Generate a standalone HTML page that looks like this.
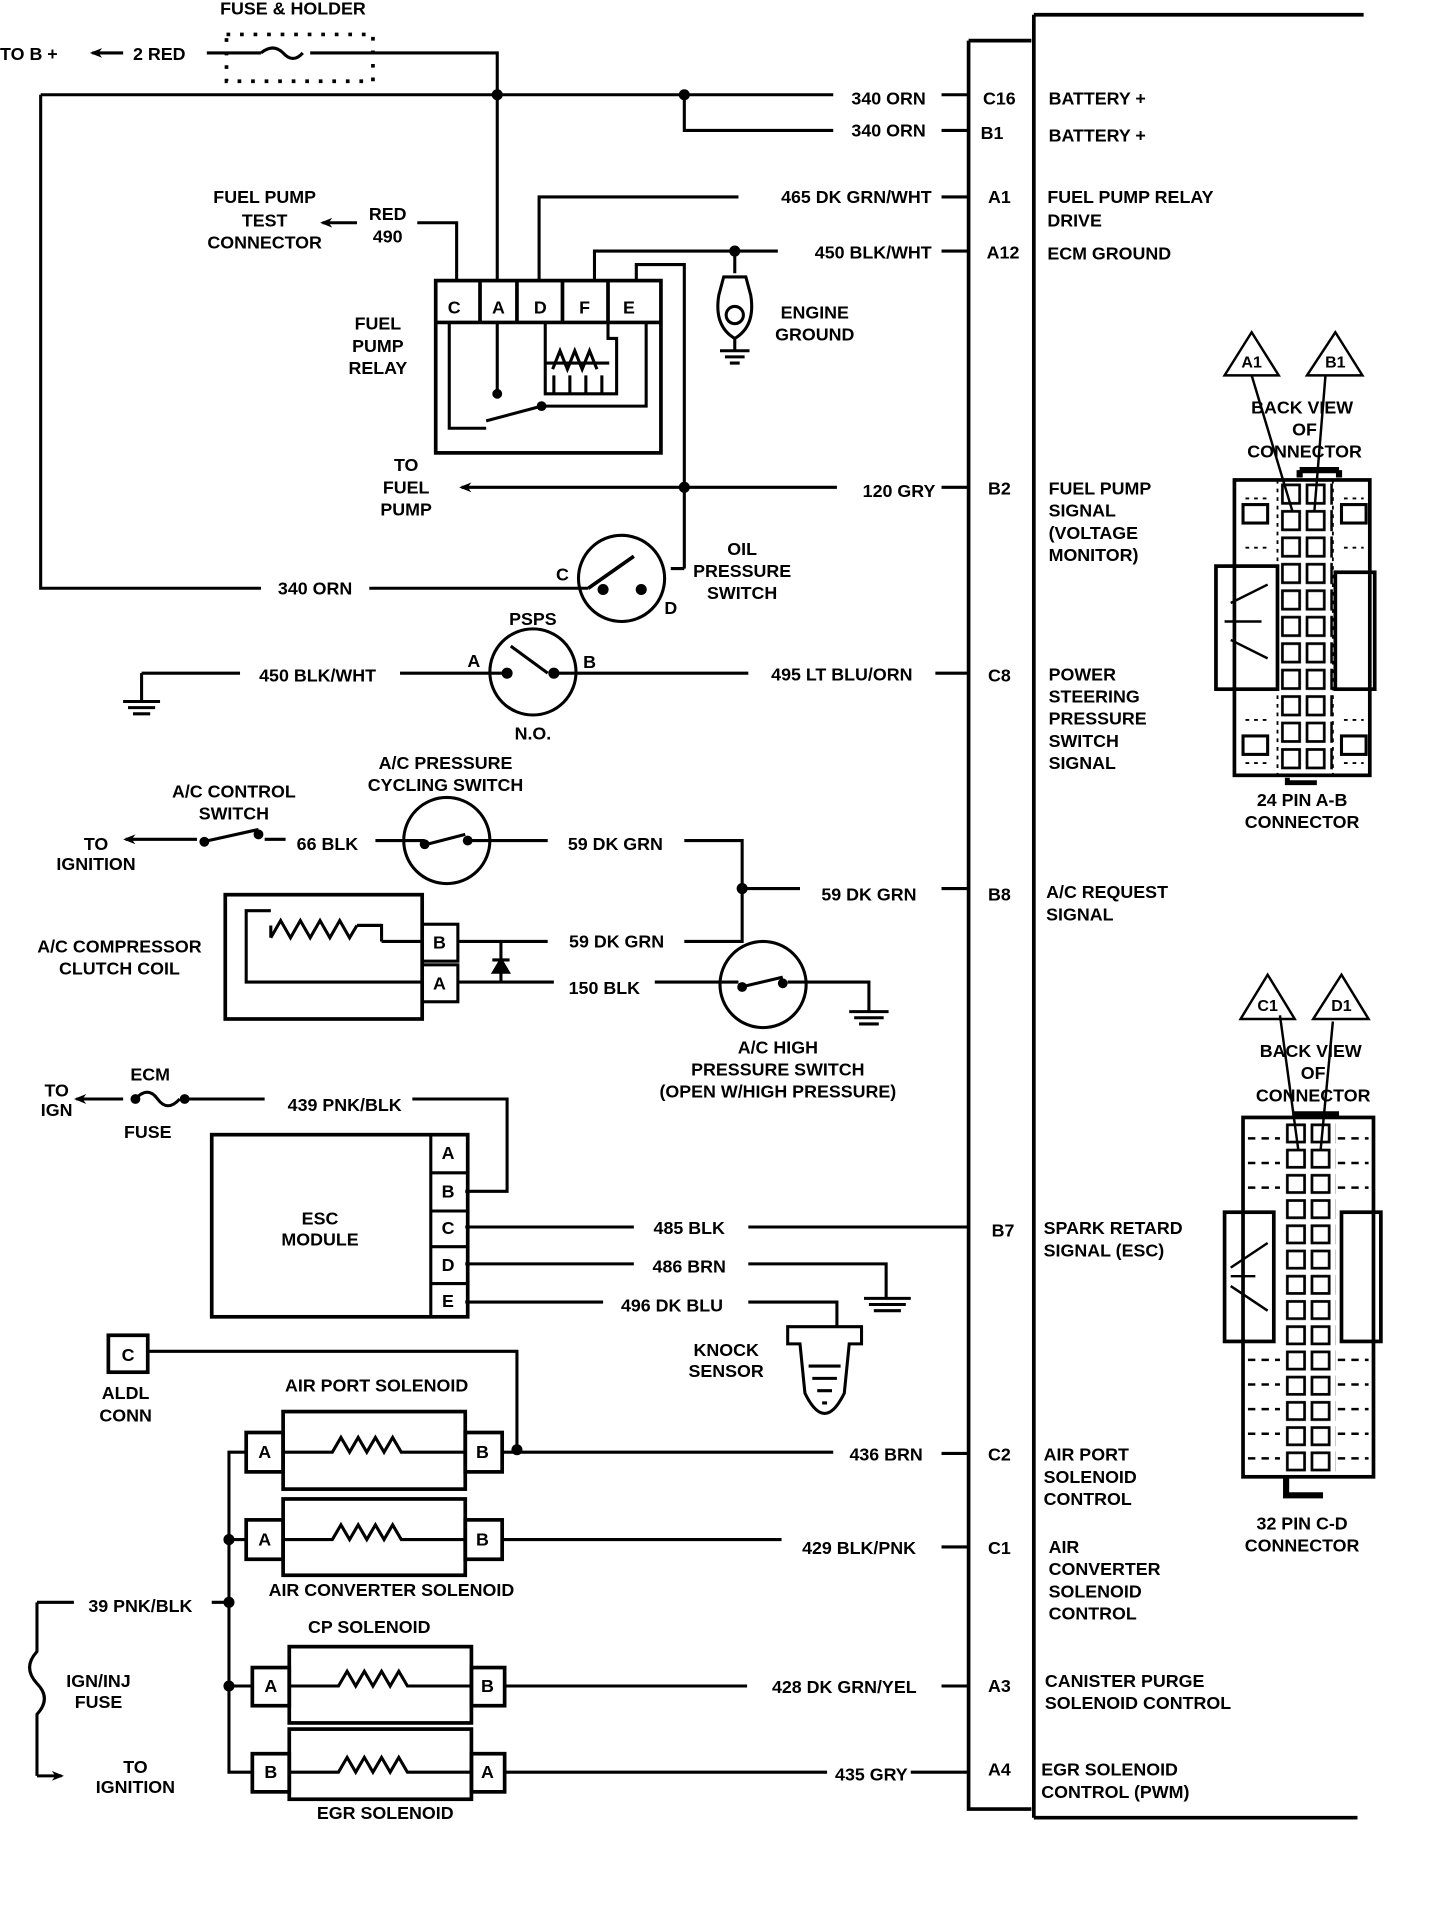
<!DOCTYPE html>
<html><head><meta charset="utf-8"><style>
html,body{margin:0;padding:0;background:#fff;}
svg{display:block;}
text{font-family:"Liberation Sans",sans-serif;font-weight:bold;font-size:14.5px;fill:#000;dominant-baseline:central;}
.m{text-anchor:middle;}
.e{text-anchor:end;}
</style></head><body>
<svg width="1456" height="1926" viewBox="0 0 1183 1565" xmlns="http://www.w3.org/2000/svg">
<defs>
<pattern id="cellsAB" x="1040" y="392" width="20" height="21.5" patternUnits="userSpaceOnUse">
<rect x="2" y="2" width="14" height="15" fill="#fff" stroke="#000" stroke-width="2.2"/></pattern>
<pattern id="cellsCD" x="1044" y="912" width="20" height="20.5" patternUnits="userSpaceOnUse">
<rect x="2" y="2" width="14" height="14" fill="#fff" stroke="#000" stroke-width="2.2"/></pattern>
<marker id="ar" markerWidth="10" markerHeight="8" refX="8" refY="4" orient="auto" markerUnits="userSpaceOnUse"><path d="M0,0 L10,4 L0,8 L3,4 Z" fill="#000"/></marker>
</defs>
<g fill="none" stroke="#000" stroke-width="2.5">
<!-- ECM box -->
<path d="M787,33 H838 M787,33 V1470 H838 M840,12 V1477 M840,12 H1108 M840,1477 H1103" stroke-width="3"/>
<!-- top -->
<path d="M100,43 H75" marker-end="url(#ar)"/>
<path d="M168,43 H212 M252,43 H404 V77"/>
<path d="M212,43 Q222,35 230,43 Q238,52 246,43" />
<rect x="184" y="28" width="119" height="38" stroke-dasharray="3,8" stroke-width="3"/>
<path d="M33,77 H677 M765,77 H787 M33,77 V478 H212 M300,478 H478"/>
<path d="M556,77 V106 H677 M765,106 H787"/>
<path d="M438,228 V160 H600 M765,160 H787"/>
<path d="M483,228 V204 H632 M765,204 H787 M597,204 V222"/>
<path d="M517,228 V215 H556 V462 M545,462 H556"/>
<path d="M339,181 H371 V228"/>
<path d="M290,181 H262" marker-end="url(#ar)"/>
<path d="M404,77 V228"/>
<!-- relay -->
<rect x="354" y="228" width="183" height="140" stroke-width="3"/>
<path d="M354,262 H537 M390,228 V262 M420,228 V262 M457,228 V262 M494,228 V262" stroke-width="3"/>
<path d="M404,262 V320 M365,262 V348 H395 M395,342 L440,330 M440,330 H525 V262 M443,262 V320 H501 V275 H494 V262 M443,295 H495"/>
<path d="M449,300 L455,285 L461,300 L467,285 L473,300 L479,285 L485,300" />
<path d="M450,305 V320 M463,305 V320 M476,305 V320 M489,305 V320"/>
<!-- engine ground -->
<path d="M588,225 H606 L610,240 Q614,265 597,275 Q580,265 584,240 Z"/>
<circle cx="597" cy="256" r="7"/>
<path d="M597,275 V285 M585,285 H609 M589,290 H605 M593,295 H601"/>
<!-- fuel pump signal -->
<path d="M680,396 H375" marker-end="url(#ar)"/>
<path d="M765,396 H787"/>
<!-- oil pressure switch -->
<circle cx="505" cy="470" r="35"/>
<path d="M478,478 L515,452" stroke-width="3"/>
<!-- PSPS -->
<circle cx="433" cy="546" r="35"/>
<path d="M115,547 H195 M325,547 H412 M450,547 H608 M760,547 H787 M115,547 V570 M100,570 H130 M104,575 H126 M108,580 H122 M415,525 L445,547" />
<!-- AC control -->
<path d="M160,682 H102" marker-end="url(#ar)"/>
<path d="M165,684 L210,674 M215,682 H232 M305,683 H345 M343,687 L378,678 M380,683 H445 M556,683 H603 V765 H556 M603,722 H650 M765,722 H787"/>
<circle cx="363" cy="683" r="35"/>
<!-- compressor -->
<rect x="183" y="727" width="160" height="101" stroke-width="3"/>
<rect x="343" y="751" width="29" height="30"/>
<rect x="343" y="784" width="29" height="30"/>
<path d="M343,765 H310 M343,798 H200 V740 H220 M310,765 V752 H290"/>
<path d="M220,762 V752 M220,762 L228,748 L236,762 L244,748 L252,762 L260,748 L268,762 L276,748 L284,762 L290,752 M290,752 H310" />
<path d="M372,765 H445 M372,798 H450 M407,765 V798 M400,780 H414 M532,798 H600 M640,798 H706 V822 M690,822 H722 M694,827 H718 M698,832 H714"/>
<path d="M401,790 L407,780 L413,790 Z" fill="#000"/>
<circle cx="620" cy="800" r="35"/>
<path d="M602,802 L636,794"/>
<!-- ECM fuse -->
<path d="M100,893 H62" marker-end="url(#ar)"/>
<path d="M110,893 Q120,882 128,893 Q136,904 146,893 M150,893 H215 M335,893 H412 V968 H378"/>
<!-- ESC module -->
<rect x="172" y="922" width="208" height="148" stroke-width="3"/>
<path d="M350,922 V1070 M350,953 H380 M350,984 H380 M350,1013 H380 M350,1043 H380"/>
<path d="M378,997 H515 M608,997 H787 M378,1027 H515 M608,1027 H720 V1055 M702,1055 H740 M706,1060 H736 M710,1065 H732 M378,1058 H490 M608,1058 H680 V1078"/>
<!-- knock sensor -->
<path d="M640,1078 H700 V1092 H690 L686,1132 Q670,1165 654,1132 L650,1092 H640 Z"/>
<path d="M657,1110 H683 M660,1120 H680 M664,1130 H676 M668,1140 H672"/>
<!-- ALDL -->
<rect x="88" y="1085" width="32" height="30" stroke-width="3"/>
<path d="M120,1098 H420 V1178"/>
<!-- solenoids -->
<g stroke-width="3">
<rect x="200" y="1164" width="30" height="32"/><rect x="230" y="1147" width="148" height="63"/><rect x="378" y="1164" width="30" height="32"/>
<rect x="200" y="1235" width="30" height="32"/><rect x="230" y="1218" width="148" height="62"/><rect x="378" y="1235" width="30" height="32"/>
<rect x="205" y="1355" width="30" height="31"/><rect x="235" y="1338" width="148" height="62"/><rect x="383" y="1355" width="27" height="31"/>
<rect x="205" y="1425" width="30" height="31"/><rect x="235" y="1405" width="148" height="57"/><rect x="383" y="1425" width="27" height="31"/>
</g>
<path d="M230,1180 H270 L277,1168 L284,1180 L291,1168 L298,1180 L305,1168 L312,1180 L319,1168 L326,1180 H378"/>
<path d="M230,1251 H270 L277,1239 L284,1251 L291,1239 L298,1251 L305,1239 L312,1251 L319,1239 L326,1251 H378"/>
<path d="M235,1370 H275 L282,1358 L289,1370 L296,1358 L303,1370 L310,1358 L317,1370 L324,1358 L331,1370 H383"/>
<path d="M235,1440 H275 L282,1428 L289,1440 L296,1428 L303,1440 L310,1428 L317,1440 L324,1428 L331,1440 H383"/>
<path d="M408,1180 H677 M765,1181 H787 M408,1251 H635 M765,1257 H787 M410,1370 H607 M765,1370 H787 M410,1440 H672 M740,1440 H787"/>
<path d="M200,1180 H186 V1440 H205 M186,1251 H200 M186,1370 H205 M30,1302 H60 M172,1302 H186"/>
<path d="M30,1302 V1342 Q18,1355 30,1368 Q42,1380 30,1393 V1443" />
<path d="M30,1443 H50" marker-end="url(#ar)"/>
<!-- connector A-B -->
<path d="M1056,382 H1088 M1056,382 V388 M1088,382 V388" stroke-width="5"/>
<rect x="1003" y="390" width="110" height="240" stroke-width="3"/>
<rect x="988" y="460" width="50" height="100" stroke-width="3"/>
<rect x="1085" y="465" width="32" height="95" stroke-width="3"/>
<rect x="1038" y="392" width="45" height="238" fill="url(#cellsAB)" stroke="none"/>
<path d="M1038,390 V630 M1083,390 V630 M1012,405 H1030 M1012,445 H1030 M1092,405 H1108 M1092,445 H1108 M1012,585 H1030 M1012,620 H1030 M1092,585 H1108 M1092,620 H1108" stroke-width="1.5" stroke-dasharray="3,4"/>
<rect x="1010" y="410" width="20" height="15"/><rect x="1090" y="410" width="20" height="15"/>
<rect x="1010" y="598" width="20" height="15"/><rect x="1090" y="598" width="20" height="15"/>
<path d="M1000,490 L1030,475 M1000,520 L1030,535 M995,505 L1025,505" stroke-width="2"/>
<path d="M1046,632 V636 H1070" stroke-width="4"/>
<path d="M1017,305 L1050,415 M1077,305 L1068,415" stroke-width="2"/>
<path d="M995,305 L1017,270 L1039,305 Z M1062,305 L1085,270 L1107,305 Z" stroke-width="2"/>
<!-- connector C-D -->
<path d="M1050,905 H1088" stroke-width="4"/>
<rect x="1010" y="908" width="106" height="292" stroke-width="3"/>
<rect x="995" y="985" width="40" height="105" stroke-width="3"/>
<rect x="1090" y="985" width="32" height="105" stroke-width="3"/>
<rect x="1042" y="910" width="43" height="290" fill="url(#cellsCD)" stroke="none"/>
<path d="M1014,925 H1040 M1014,945 H1040 M1014,965 H1040 M1087,925 H1112 M1087,945 H1112 M1087,965 H1112 M1014,1105 H1040 M1014,1125 H1040 M1014,1145 H1040 M1014,1165 H1040 M1014,1185 H1040 M1087,1105 H1112 M1087,1125 H1112 M1087,1145 H1112 M1087,1165 H1112 M1087,1185 H1112" stroke-width="2" stroke-dasharray="6,5"/>
<path d="M1000,1030 L1030,1010 M1000,1045 L1030,1065 M1000,1037 L1020,1037" stroke-width="2"/>
<path d="M1045,1200 V1215 H1075" stroke-width="5"/>
<path d="M1040,825 L1055,935 M1083,830 L1073,935" stroke-width="2"/>
<path d="M1008,828 L1030,792 L1052,828 Z M1067,828 L1090,792 L1112,828 Z" stroke-width="2"/>
</g>
<!-- junction dots -->
<g fill="#000">
<circle cx="404" cy="77" r="4.5"/><circle cx="556" cy="77" r="4.5"/><circle cx="597" cy="204" r="4.5"/><circle cx="556" cy="396" r="4.5"/>
<circle cx="404" cy="320" r="4"/><circle cx="440" cy="330" r="4"/><circle cx="490" cy="479" r="4.5"/><circle cx="521" cy="479" r="4.5"/>
<circle cx="412" cy="547" r="4.5"/><circle cx="450" cy="547" r="4.5"/><circle cx="210" cy="678" r="4"/><circle cx="166" cy="684" r="4"/>
<circle cx="345" cy="686" r="4"/><circle cx="380" cy="683" r="4"/><circle cx="603" cy="722" r="4.5"/><circle cx="603" cy="802" r="4"/><circle cx="636" cy="799" r="4"/>
<circle cx="110" cy="893" r="4"/><circle cx="150" cy="893" r="4"/><circle cx="420" cy="1178" r="4.5"/><circle cx="186" cy="1251" r="4.5"/><circle cx="186" cy="1302" r="4.5"/><circle cx="186" cy="1370" r="4.5"/>
</g>
<!-- text -->
<text x="238" y="7" class="m">FUSE &amp; HOLDER</text>
<text x="0" y="44">TO B +</text><text x="108" y="44">2 RED</text>
<text x="722" y="80" class="m">340 ORN</text><text x="722" y="106" class="m">340 ORN</text>
<text x="757" y="160" class="e">465 DK GRN/WHT</text><text x="757" y="205" class="e">450 BLK/WHT</text>
<text x="215" y="160" class="m">FUEL PUMP</text><text x="215" y="179" class="m">TEST</text><text x="215" y="197" class="m">CONNECTOR</text>
<text x="315" y="174" class="m">RED</text><text x="315" y="192" class="m">490</text>
<text x="307" y="263" class="m">FUEL</text><text x="307" y="281" class="m">PUMP</text><text x="307" y="299" class="m">RELAY</text>
<text x="369" y="250" class="m">C</text><text x="405" y="250" class="m">A</text><text x="439" y="250" class="m">D</text><text x="475" y="250" class="m">F</text><text x="511" y="250" class="m">E</text>
<text x="662" y="254" class="m">ENGINE</text><text x="662" y="272" class="m">GROUND</text>
<text x="330" y="378" class="m">TO</text><text x="330" y="396" class="m">FUEL</text><text x="330" y="414" class="m">PUMP</text>
<text x="760" y="399" class="e">120 GRY</text>
<text x="603" y="446" class="m">OIL</text><text x="603" y="464" class="m">PRESSURE</text><text x="603" y="482" class="m">SWITCH</text>
<text x="457" y="467" class="m">C</text><text x="545" y="494" class="m">D</text><text x="256" y="478" class="m">340 ORN</text>
<text x="433" y="503" class="m">PSPS</text><text x="433" y="596" class="m">N.O.</text><text x="385" y="537" class="m">A</text><text x="479" y="538" class="m">B</text>
<text x="258" y="549" class="m">450 BLK/WHT</text><text x="684" y="548" class="m">495 LT BLU/ORN</text>
<text x="362" y="620" class="m">A/C PRESSURE</text><text x="362" y="638" class="m">CYCLING SWITCH</text>
<text x="190" y="643" class="m">A/C CONTROL</text><text x="190" y="661" class="m">SWITCH</text>
<text x="78" y="686" class="m">TO</text><text x="78" y="702" class="m">IGNITION</text><text x="266" y="686" class="m">66 BLK</text>
<text x="500" y="686" class="m">59 DK GRN</text><text x="706" y="727" class="m">59 DK GRN</text>
<text x="97" y="769" class="m">A/C COMPRESSOR</text><text x="97" y="787" class="m">CLUTCH COIL</text>
<text x="357" y="766" class="m">B</text><text x="357" y="799" class="m">A</text>
<text x="501" y="765" class="m">59 DK GRN</text><text x="491" y="803" class="m">150 BLK</text>
<text x="632" y="851" class="m">A/C HIGH</text><text x="632" y="869" class="m">PRESSURE SWITCH</text><text x="632" y="887" class="m">(OPEN W/HIGH PRESSURE)</text>
<text x="46" y="886" class="m">TO</text><text x="46" y="902" class="m">IGN</text><text x="122" y="873" class="m">ECM</text><text x="120" y="920" class="m">FUSE</text>
<text x="280" y="898" class="m">439 PNK/BLK</text>
<text x="260" y="990" class="m">ESC</text><text x="260" y="1007" class="m">MODULE</text>
<text x="364" y="937" class="m">A</text><text x="364" y="968" class="m">B</text><text x="364" y="998" class="m">C</text><text x="364" y="1028" class="m">D</text><text x="364" y="1057" class="m">E</text>
<text x="560" y="998" class="m">485 BLK</text><text x="560" y="1029" class="m">486 BRN</text><text x="546" y="1061" class="m">496 DK BLU</text>
<text x="590" y="1097" class="m">KNOCK</text><text x="590" y="1114" class="m">SENSOR</text>
<text x="104" y="1101" class="m">C</text><text x="102" y="1132" class="m">ALDL</text><text x="102" y="1150" class="m">CONN</text>
<text x="306" y="1126" class="m">AIR PORT SOLENOID</text><text x="318" y="1292" class="m">AIR CONVERTER  SOLENOID</text>
<text x="300" y="1322" class="m">CP SOLENOID</text><text x="313" y="1473" class="m">EGR SOLENOID</text>
<text x="215" y="1180" class="m">A</text><text x="392" y="1180" class="m">B</text><text x="215" y="1251" class="m">A</text><text x="392" y="1251" class="m">B</text>
<text x="220" y="1370" class="m">A</text><text x="396" y="1370" class="m">B</text><text x="220" y="1440" class="m">B</text><text x="396" y="1440" class="m">A</text>
<text x="720" y="1182" class="m">436 BRN</text><text x="698" y="1258" class="m">429 BLK/PNK</text><text x="686" y="1371" class="m">428 DK GRN/YEL</text><text x="708" y="1442" class="m">435 GRY</text>
<text x="114" y="1305" class="m">39 PNK/BLK</text><text x="80" y="1366" class="m">IGN/INJ</text><text x="80" y="1383" class="m">FUSE</text>
<text x="110" y="1436" class="m">TO</text><text x="110" y="1452" class="m">IGNITION</text>
<!-- pins -->
<text x="812" y="80" class="m">C16</text><text x="806" y="108" class="m">B1</text><text x="812" y="160" class="m">A1</text><text x="815" y="205" class="m">A12</text>
<text x="812" y="397" class="m">B2</text><text x="812" y="549" class="m">C8</text><text x="812" y="727" class="m">B8</text><text x="815" y="1000" class="m">B7</text>
<text x="812" y="1182" class="m">C2</text><text x="812" y="1258" class="m">C1</text><text x="812" y="1370" class="m">A3</text><text x="812" y="1438" class="m">A4</text>
<text x="852" y="80">BATTERY +</text><text x="852" y="110">BATTERY +</text>
<text x="851" y="160">FUEL PUMP RELAY</text><text x="851" y="179">DRIVE</text><text x="851" y="206">ECM GROUND</text>
<text x="852" y="397">FUEL PUMP</text><text x="852" y="415">SIGNAL</text><text x="852" y="433">(VOLTAGE</text><text x="852" y="451">MONITOR)</text>
<text x="852" y="548">POWER</text><text x="852" y="566">STEERING</text><text x="852" y="584">PRESSURE</text><text x="852" y="602">SWITCH</text><text x="852" y="620">SIGNAL</text>
<text x="850" y="725">A/C REQUEST</text><text x="850" y="743">SIGNAL</text>
<text x="848" y="998">SPARK RETARD</text><text x="848" y="1016">SIGNAL (ESC)</text>
<text x="848" y="1182">AIR PORT</text><text x="848" y="1200">SOLENOID</text><text x="848" y="1218">CONTROL</text>
<text x="852" y="1257">AIR</text><text x="852" y="1275">CONVERTER</text><text x="852" y="1293">SOLENOID</text><text x="852" y="1311">CONTROL</text>
<text x="849" y="1366">CANISTER PURGE</text><text x="849" y="1384">SOLENOID CONTROL</text>
<text x="846" y="1438">EGR SOLENOID</text><text x="846" y="1456">CONTROL (PWM)</text>
<!-- connector labels -->
<text x="1017" y="295" class="m" style="font-size:13px">A1</text><text x="1085" y="295" class="m" style="font-size:13px">B1</text>
<text x="1058" y="331" class="m">BACK VIEW</text><text x="1060" y="349" class="m">OF</text><text x="1060" y="367" class="m">CONNECTOR</text>
<text x="1058" y="650" class="m">24 PIN  A-B</text><text x="1058" y="668" class="m">CONNECTOR</text>
<text x="1030" y="818" class="m" style="font-size:13px">C1</text><text x="1090" y="818" class="m" style="font-size:13px">D1</text>
<text x="1065" y="854" class="m">BACK VIEW</text><text x="1067" y="872" class="m">OF</text><text x="1067" y="890" class="m">CONNECTOR</text>
<text x="1058" y="1238" class="m">32  PIN C-D</text><text x="1058" y="1256" class="m">CONNECTOR</text>
</svg>
</body></html>
